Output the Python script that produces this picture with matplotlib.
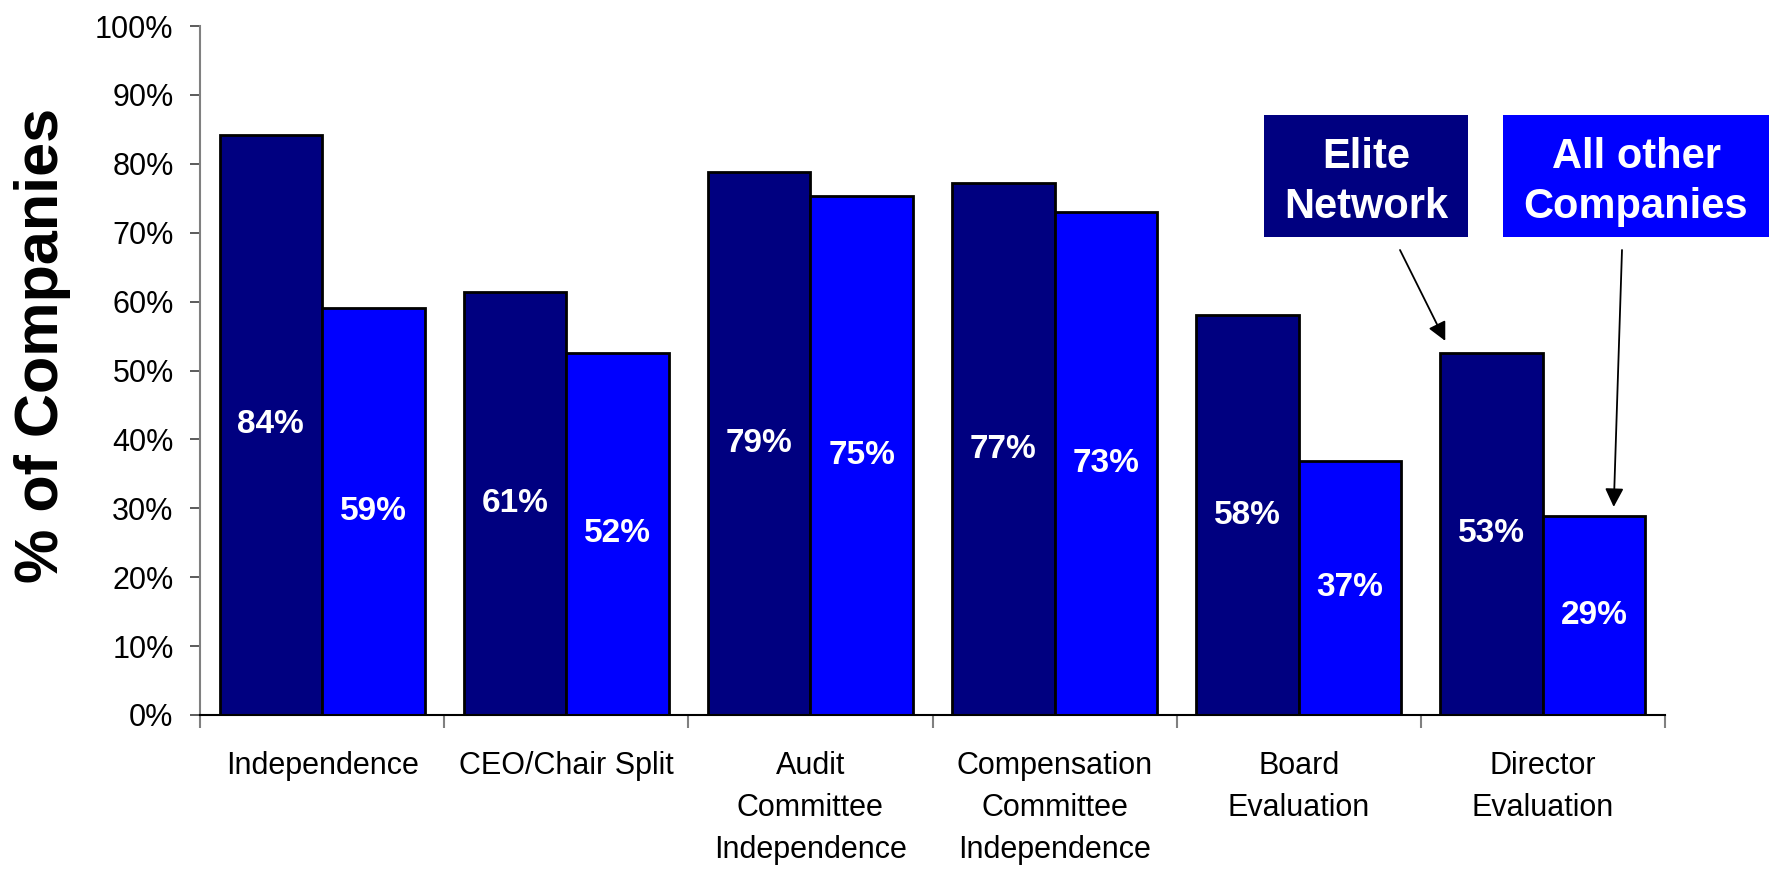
import numpy as np
import matplotlib.pyplot as plt
from matplotlib.patches import Rectangle

plt.rcParams['font.family'] = ['Liberation Sans', 'DejaVu Sans']

categories = ["Independence", "CEO/Chair Split", "Audit\nCommittee\nIndependence",
              "Compensation\nCommittee\nIndependence", "Board\nEvaluation", "Director\nEvaluation"]
elite = [84.2, 61.4, 78.8, 77.2, 58.0, 52.6]
others = [59.1, 52.6, 75.3, 73.0, 36.9, 28.9]
elite_labels = ["84%", "61%", "79%", "77%", "58%", "53%"]
other_labels = ["59%", "52%", "75%", "73%", "37%", "29%"]

navy = "#000080"
blue = "#0000FF"

W, H = 1779, 873
fig = plt.figure(figsize=(W / 100, H / 100), dpi=100)
ax = fig.add_axes([200 / W, 1 - 715 / H, 1465 / W, 689 / H])

x = np.arange(len(categories))
w = 0.42
b1 = ax.bar(x - w / 2, elite, w, color=navy, edgecolor="black", linewidth=2, zorder=2)
b2 = ax.bar(x + w / 2, others, w, color=blue, edgecolor="black", linewidth=2, zorder=2)

for bars, labs in ((b1, elite_labels), (b2, other_labels)):
    for r, lab in zip(bars, labs):
        ax.text(r.get_x() + r.get_width() / 2, r.get_height() / 2, lab,
                ha="center", va="center", color="white", fontsize=24,
                fontweight="bold", zorder=3)

ax.set_xlim(-0.5, len(categories) - 0.5)
ax.set_ylim(0, 100)
ax.set_yticks(np.arange(0, 101, 10))
ax.set_yticklabels([f"{v}%" for v in range(0, 101, 10)], fontsize=22)
ax.tick_params(axis="y", length=7, width=1.2, color="#404040", pad=12)

ax.set_xticks(x)
ax.set_xticklabels(categories, fontsize=22, linespacing=1.52)
ax.tick_params(axis="x", which="major", length=0, pad=26)
ax.set_xticks(np.arange(-0.5, len(categories)), minor=True)
ax.tick_params(axis="x", which="minor", length=9, width=1.5, color="#808080")

for s in ("top", "right"):
    ax.spines[s].set_visible(False)
ax.spines["left"].set_color("#808080")
ax.spines["left"].set_linewidth(1.5)
ax.spines["bottom"].set_color("black")
ax.spines["bottom"].set_linewidth(1.5)

fig.text(43 / W, 1 - 345 / H, "% of Companies", rotation=90, ha="center", va="center",
         fontsize=44, fontweight="bold")

# legend boxes
for (x0, x1, col, txt) in ((1264, 1468, navy, "Elite\nNetwork"),
                          (1503, 1769, blue, "All other\nCompanies")):
    fig.patches.append(Rectangle((x0 / W, 1 - 237 / H), (x1 - x0) / W, 122 / H,
                                 transform=fig.transFigure, facecolor=col, edgecolor="none"))
    fig.text((x0 + x1) / 2 / W, 1 - 182 / H, txt, ha="center", va="center", color="white",
             fontsize=30, fontweight="bold", linespacing=1.3)

ax.annotate("", xy=(4.60, 54.3), xycoords="data", xytext=(1400 / W, 1 - 250 / H),
            textcoords="figure fraction",
            arrowprops=dict(arrowstyle="-|>", mutation_scale=28, lw=1.3, color="black",
                            shrinkA=0, shrinkB=0))
ax.annotate("", xy=(5.29, 30.2), xycoords="data", xytext=(1622 / W, 1 - 250 / H),
            textcoords="figure fraction",
            arrowprops=dict(arrowstyle="-|>", mutation_scale=28, lw=1.3, color="black",
                            shrinkA=0, shrinkB=0))

fig.savefig("out.png", dpi=100)
